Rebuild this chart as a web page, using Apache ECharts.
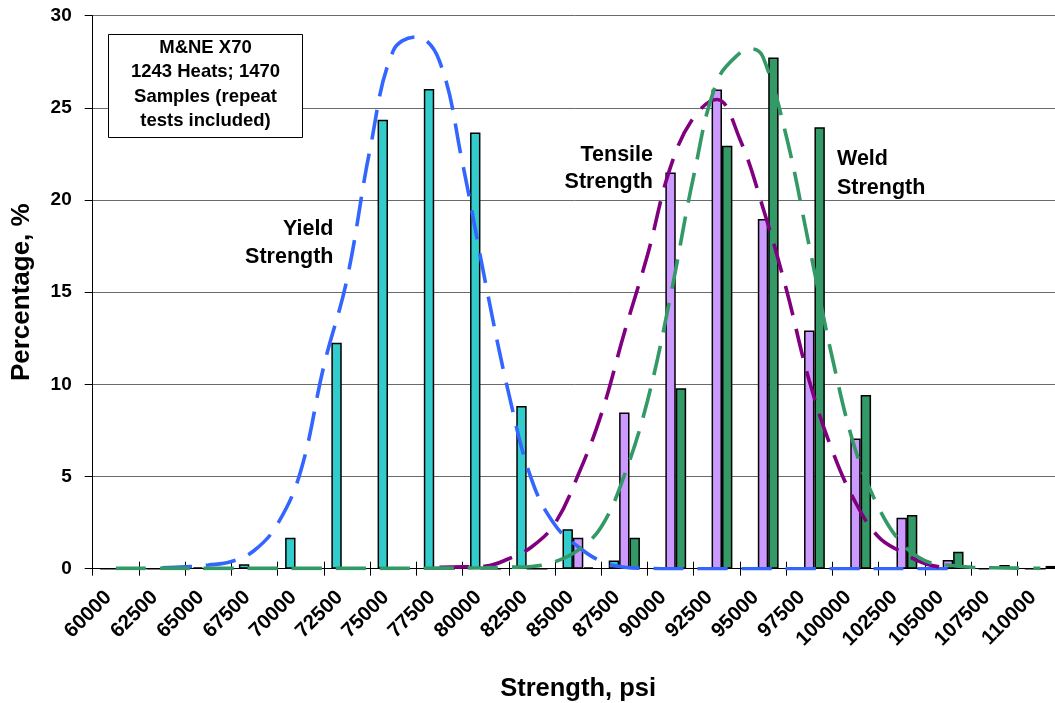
<!DOCTYPE html>
<html>
<head>
<meta charset="utf-8">
<title>M&amp;NE X70 strength distribution</title>
<script src="https://cdn.jsdelivr.net/npm/echarts@6/dist/echarts.min.js"></script>
<style>
  html, body { margin: 0; padding: 0; background: #fff; }
  #chart { width: 1055px; height: 703px; }
</style>
</head>
<body>
<div id="chart"></div>
<script>
// Strength bins (psi)
const categories = ['60000', '62500', '65000', '67500', '70000', '72500', '75000', '77500',
  '80000', '82500', '85000', '87500', '90000', '92500', '95000', '97500', '100000',
  '102500', '105000', '107500', '110000'];

// Share of samples in each bin, %
const yieldPct   = [0, 0, 0.07, 0.24, 1.68, 12.26, 24.35, 26.03, 23.66, 8.83, 2.14, 0.45, 0.05, 0, 0, 0.05, 0, 0, 0, 0, 0];
const tensilePct = [0, 0, 0, 0, 0, 0, 0, 0, 0, 0, 1.68, 8.48, 21.49, 26.0, 18.97, 12.92, 7.07, 2.77, 0.47, 0.07, 0];
const weldPct    = [0, 0, 0, 0, 0, 0, 0, 0, 0, 0, 0.07, 1.68, 9.79, 22.94, 27.73, 23.95, 9.42, 2.91, 0.92, 0.2, 0.15];

// Fitted distribution curves: [strength psi, %]
const yieldFit = [
  [62500, 0.05], [63750, 0.1], [65000, 0.2], [66250, 0.39], [67500, 1.0], [68750, 2.43],
  [70000, 5.3], [71250, 11.0], [72500, 15.7], [73750, 22.77], [75000, 28.09], [76250, 28.85],
  [77500, 27.55], [78750, 22.0], [80000, 15.47], [81250, 9.5], [82500, 4.79], [83750, 2.37],
  [85000, 1.19], [86250, 0.4], [87500, 0.08], [88750, 0.02], [90000, 0], [92500, 0],
  [95000, 0], [97500, 0], [100000, 0], [102500, 0], [105000, 0]
];
const tensileFit = [
  [77500, 0.08], [78750, 0.1], [80000, 0.14], [81250, 0.54], [82500, 1.19], [83750, 2.46],
  [85000, 5.08], [86250, 8.37], [87500, 12.8], [88750, 17.0], [90000, 21.8], [91250, 24.48],
  [92500, 25.45], [93750, 23.3], [95000, 19.57], [96250, 15.2], [97500, 10.2], [98750, 6.4],
  [100000, 3.6], [101250, 1.72], [102500, 0.9], [103750, 0.28], [105000, 0.03]
];
const weldFit = [
  [60000, 0.02], [62500, 0.02], [65000, 0.02], [67500, 0.02], [70000, 0.02], [72500, 0.02],
  [75000, 0.02], [77500, 0.03], [80000, 0.05], [81250, 0.08], [82500, 0.12], [83750, 0.38],
  [85000, 1.01], [86250, 2.26], [87500, 5.06], [88750, 9.1], [90000, 14.8], [91250, 21.3],
  [92500, 26.4], [93750, 27.98], [94400, 28.2], [95000, 27.75], [96250, 23.5], [97500, 17.5],
  [98750, 11.43], [100000, 6.44], [101250, 3.32], [102500, 1.39], [103750, 0.44], [105000, 0.2],
  [106250, 0.08], [107500, 0.05], [108750, 0.03], [110000, 0.02]
];

const FONT = '"Liberation Sans", Arial, Helvetica, sans-serif';

const COLORS = {
  yieldBar: '#33CCCC', tensileBar: '#CC99FF', weldBar: '#339966',
  yieldLine: '#3366FF', tensileLine: '#800080', weldLine: '#339966'
};

function barSeries(name, data, color) {
  return {
    name, type: 'bar', data,
    xAxisIndex: 0, yAxisIndex: 0,
    barWidth: 10.4, barGap: '0%',
    itemStyle: { color, borderColor: '#000', borderWidth: 1.5 },
    emphasis: { disabled: true },
    animation: false, z: 2
  };
}

// Curves sit on a hidden value axis that spans the same width as the bins
function fitSeries(name, data, color) {
  return {
    name, type: 'line', data,
    xAxisIndex: 2, yAxisIndex: 0,
    smooth: 0.4, symbol: 'none', showSymbol: false,
    lineStyle: { color, width: 3.6, type: [30, 14], cap: 'butt' },
    emphasis: { disabled: true },
    animation: false, z: 3
  };
}

const chart = echarts.init(document.getElementById('chart'), null, { renderer: 'canvas' });

const binStart = Number(categories[0]) - 1250;
const binEnd = Number(categories[categories.length - 1]) + 1250;

chart.setOption({
  backgroundColor: '#fff',
  animation: false,
  grid: { left: 92.7, top: 15.7, right: -8.5, bottom: 134.3, containLabel: false, outerBoundsMode: 'none' },
  xAxis: [
    {
      type: 'category', data: categories, position: 'bottom', boundaryGap: true,
      axisLine: { show: true, onZero: false, lineStyle: { color: '#000', width: 1 } },
      axisTick: { show: true, interval: 0, length: 7, lineStyle: { color: '#000', width: 1 } },
      axisLabel: {
        show: true, interval: 0, rotate: 45, margin: 33, hideOverlap: false,
        verticalAlign: 'bottom',
        fontFamily: FONT, fontWeight: 'bold', fontSize: 20.5, color: '#000'
      },
      splitLine: { show: false },
      name: 'Strength, psi', nameLocation: 'middle', nameGap: 107,
      nameTextStyle: { fontFamily: FONT, fontWeight: 'bold', fontSize: 25.5, color: '#000' }
    },
    {
      type: 'category', data: categories, position: 'bottom', boundaryGap: true,
      axisLine: { show: false },
      axisTick: { show: true, inside: true, interval: 0, length: 7, lineStyle: { color: '#000', width: 1 } },
      axisLabel: { show: false },
      splitLine: { show: false }
    },
    {
      type: 'value', position: 'bottom', min: binStart, max: binEnd, show: false,
      axisLine: { show: false }, axisTick: { show: false }, axisLabel: { show: false },
      splitLine: { show: false }
    }
  ],
  yAxis: {
    type: 'value', min: 0, max: 30, interval: 5,
    axisLine: { show: true, lineStyle: { color: '#000', width: 1 } },
    axisTick: { show: true, length: 8, lineStyle: { color: '#000', width: 1 } },
    axisLabel: { margin: 21, fontFamily: FONT, fontWeight: 'bold', fontSize: 19, color: '#000' },
    splitLine: { show: true, lineStyle: { color: '#6a6a6a', width: 1 } },
    name: 'Percentage, %', nameLocation: 'middle', nameGap: 58,
    nameTextStyle: { fontFamily: FONT, fontWeight: 'bold', fontSize: 26, color: '#000' }
  },
  series: [
    barSeries('Yield Strength', yieldPct, COLORS.yieldBar),
    barSeries('Tensile Strength', tensilePct, COLORS.tensileBar),
    barSeries('Weld Strength', weldPct, COLORS.weldBar),
    fitSeries('Yield Strength fit', yieldFit, COLORS.yieldLine),
    fitSeries('Tensile Strength fit', tensileFit, COLORS.tensileLine),
    fitSeries('Weld Strength fit', weldFit, COLORS.weldLine)
  ],
  graphic: [
    {
      type: 'rect', z: 20, silent: true,
      shape: { x: 108.5, y: 34.5, width: 194, height: 103 },
      style: { fill: '#fff', stroke: '#000', lineWidth: 1 }
    },
    {
      type: 'text', z: 21, silent: true, x: 205.5, y: 84.5,
      style: {
        text: 'M&NE X70\n1243 Heats; 1470\nSamples (repeat\ntests included)',
        font: 'bold 18.5px ' + FONT, fill: '#000', align: 'center', verticalAlign: 'middle', lineHeight: 24.2
      }
    },
    {
      type: 'text', z: 21, silent: true, x: 333.5, y: 243,
      style: {
        text: 'Yield\nStrength', font: 'bold 21.5px ' + FONT, fill: '#000',
        align: 'right', verticalAlign: 'middle', lineHeight: 28.5
      }
    },
    {
      type: 'text', z: 21, silent: true, x: 653, y: 168.5,
      style: {
        text: 'Tensile\nStrength', font: 'bold 21.5px ' + FONT, fill: '#000',
        align: 'right', verticalAlign: 'middle', lineHeight: 27.7
      }
    },
    {
      type: 'text', z: 21, silent: true, x: 837, y: 173.5,
      style: {
        text: 'Weld\nStrength', font: 'bold 21.5px ' + FONT, fill: '#000',
        align: 'left', verticalAlign: 'middle', lineHeight: 28.5
      }
    }
  ]
});
</script>
</body>
</html>
